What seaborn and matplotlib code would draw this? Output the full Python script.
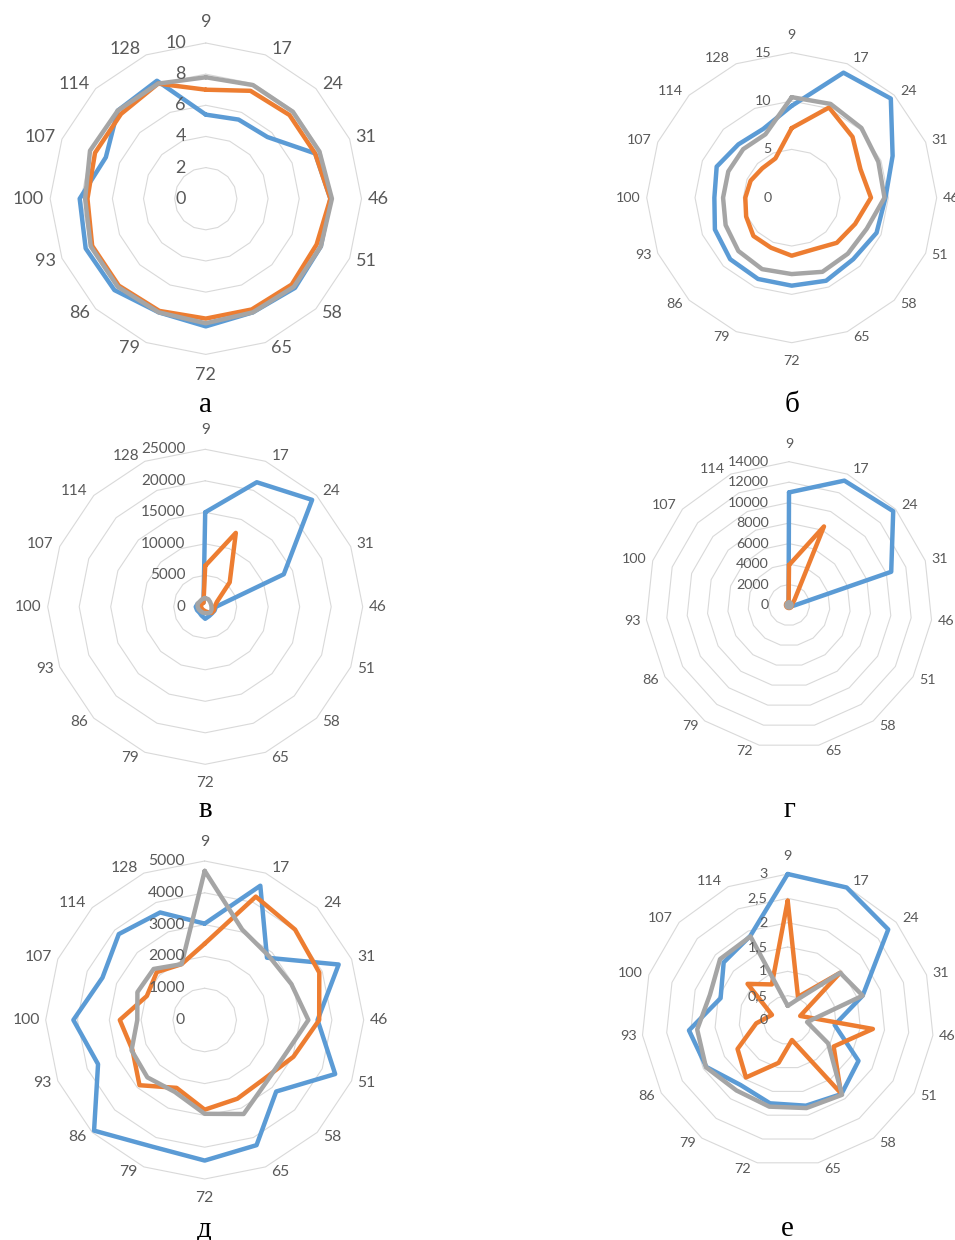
import numpy as np
import pandas as pd
import matplotlib
matplotlib.use("Agg")
import matplotlib.pyplot as plt
import seaborn as sns
from matplotlib.transforms import offset_copy

# categories (16 for а, б, в, д; 15 for г, е)
cats16 = ["9", "17", "24", "31", "46", "51", "58", "65", "72", "79", "86", "93", "100", "107", "114", "128"]
cats15 = ["9", "17", "24", "31", "46", "51", "58", "65", "72", "79", "86", "93", "100", "107", "114"]

# а
blue_a = [5.4, 5.5, 5.6, 7.6, 8.0, 8.0, 8.1, 7.9, 8.2, 7.9, 8.3, 8.35, 8.1, 6.95, 8.0, 8.2]
orange_a = [7.0, 7.5, 7.6, 7.6, 8.0, 7.7, 7.8, 7.7, 7.7, 7.8, 7.9, 7.9, 7.6, 7.7, 7.7, 8.0]
gray_a = [7.8, 7.9, 7.9, 7.9, 8.1, 8.0, 8.0, 7.9, 8.0, 7.9, 8.0, 8.0, 7.75, 8.05, 8.0, 8.0]
ticks_a = [0, 2, 4, 6, 8, 10]
labels_a = ["0", "2", "4", "6", "8", "10"]

# б
blue_b = [9.5, 14.0, 14.5, 11.3, 9.7, 9.5, 9.0, 9.3, 9.1, 9.1, 9.0, 8.6, 8.0, 8.4, 7.8, 7.7]
orange_b = [7.2, 10.1, 8.9, 7.7, 8.2, 7.1, 6.6, 5.8, 6.0, 5.6, 5.6, 5.1, 4.8, 4.6, 4.3, 4.4]
gray_b = [10.4, 10.5, 10.2, 9.7, 9.6, 8.4, 8.2, 8.3, 7.9, 8.0, 7.8, 7.4, 7.1, 7.1, 7.1, 7.1]
ticks_b = [0, 5, 10, 15]
labels_b = ["0", "5", "10", "15"]

# в
blue_v = [15000, 21400, 24000, 13500, 1700, 1600, 1500, 1600, 1900, 1500, 1300, 1400, 1500, 1300, 1000, 700]
orange_v = [6500, 12700, 5500, 2000, 1500, 1500, 1400, 900, 700, 600, 600, 600, 700, 700, 700, 700]
gray_v = [1400, 1300, 1100, 1000, 1000, 1100, 1200, 1100, 1000, 1000, 1000, 1100, 1200, 1300, 1200, 1300]
ticks_v = [0, 5000, 10000, 15000, 20000, 25000]
labels_v = ["0", "5000", "10000", "15000", "20000", "25000"]

# г
blue_g = [11000, 13300, 13700, 10500, 500, 200, 200, 200, 200, 200, 200, 200, 200, 200, 100]
orange_g = [3900, 8400, 700, 300, 300, 300, 300, 300, 300, 300, 300, 300, 300, 300, 100]
gray_g = [250, 250, 250, 250, 250, 250, 250, 250, 250, 250, 250, 250, 250, 250, 250]
ticks_g = [0, 2000, 4000, 6000, 8000, 10000, 12000, 14000]
labels_g = ["0", "2000", "4000", "6000", "8000", "10000", "12000", "14000"]

# д
blue_d = [3030, 4570, 2770, 4560, 3550, 4440, 3180, 4260, 4420, 4310, 4920, 3630, 4130, 3480, 3820, 3660]
orange_d = [2400, 4200, 4020, 3900, 3600, 3020, 2630, 2680, 2820, 2310, 2900, 2460, 2670, 1970, 2130, 1900]
gray_d = [4690, 3080, 2850, 2950, 3260, 2760, 2750, 3200, 2950, 2450, 2550, 2490, 2120, 2290, 2270, 1900]
ticks_d = [0, 1000, 2000, 3000, 4000, 5000]
labels_d = ["0", "1000", "2000", "3000", "4000", "5000"]

# е
blue_e = [3.0, 2.98, 2.78, 1.62, 0.97, 1.68, 1.88, 1.80, 1.75, 1.65, 1.93, 2.04, 1.45, 1.77, 1.89]
orange_e = [2.45, 0.52, 1.45, 0.27, 1.76, 1.09, 1.86, 0.42, 0.90, 1.46, 1.19, 0.65, 0.34, 1.11, 0.80]
gray_e = [0.29, 0.45, 1.45, 1.62, 0.40, 0.96, 1.90, 1.85, 1.82, 1.79, 1.94, 1.87, 1.68, 1.87, 1.88]
ticks_e = [0, 0.5, 1, 1.5, 2, 2.5, 3]
labels_e = ["0", "0,5", "1", "1,5", "2", "2,5", "3"]

colors = ["#5B9BD5", "#ED7D31", "#A5A5A5"]
text_col = "#595959"

sns.set_style("white")
plt.rcParams["font.family"] = ["Lato", "DejaVu Sans"]

W, H = 955, 1240
fig = plt.figure(figsize=(W / 100, H / 100), dpi=100)


def radar(cx, cy, R, cats, series, ticks, tick_labels, fs, letter, letter_y, vgap=19):
    ax = fig.add_axes([(cx - R) / W, (H - cy - R) / H, 2 * R / W, 2 * R / H], projection="polar")
    ax.set_theta_zero_location("N")
    ax.set_theta_direction(-1)
    n = len(cats)
    rmax = ticks[-1]
    theta = np.linspace(0, 2 * np.pi, n, endpoint=False)
    closed = np.append(theta, 2 * np.pi)

    # polygon grid rings
    for v in ticks[1:]:
        ax.plot(closed, [v] * (n + 1), color="#D9D9D9", lw=0.8, zorder=1, clip_on=False)

    rows = []
    for name, vals in zip(["s1", "s2", "s3"], series):
        vv = list(vals) + [vals[0]]
        for t, v in zip(closed, vv):
            rows.append({"theta": t, "value": v, "series": name})
    df = pd.DataFrame(rows)
    sns.lineplot(data=df, x="theta", y="value", hue="series", hue_order=["s1", "s2", "s3"],
                 palette=colors, sort=False, estimator=None, linewidth=3.2, legend=False, ax=ax,
                 clip_on=False, solid_joinstyle="round", zorder=3)

    ax.set_ylim(0, rmax)
    ax.grid(False)
    ax.set_xticks([])
    ax.set_yticks([])
    ax.spines["polar"].set_visible(False)
    ax.patch.set_alpha(0)
    ax.set_xlabel("")
    ax.set_ylabel("")

    # value labels left of the vertical axis
    tr = offset_copy(ax.transData, fig=fig, x=-20, y=0, units="dots")
    for v, s in zip(ticks, tick_labels):
        ax.text(0, v, s, transform=tr, ha="right", va="center", fontsize=fs, color=text_col, zorder=5)

    # category labels, placed like excel does
    for t, c in zip(theta, cats):
        sn, cs = np.sin(t), np.cos(t)
        if abs(sn) < 0.05:
            ha, dx, dy = "center", 0, cs * vgap
        else:
            ha, dx, dy = ("left" if sn > 0 else "right"), np.sign(sn) * 6, 6 * cs
        trl = offset_copy(ax.transData, fig=fig, x=dx, y=dy, units="dots")
        ax.text(t, rmax, c, transform=trl, ha=ha, va="center", fontsize=fs, color=text_col)

    fig.text(cx / W, 1 - letter_y / H, letter, ha="center", va="baseline",
             family="Liberation Serif", fontsize=21, color="black")


radar(205.8, 198.7, 155.7, cats16, [blue_a, orange_a, gray_a], ticks_a, labels_a, 13, "а", 412, 21)
radar(791.7, 197.7, 145, cats16, [blue_b, orange_b, gray_b], ticks_b, labels_b, 10.3, "б", 412, 18)
radar(205.2, 606.8, 157.5, cats16, [blue_v, orange_v, gray_v], ticks_v, labels_v, 11, "в", 817, 19)
radar(789, 605, 143.3, cats15, [blue_g, orange_g, gray_g], ticks_g, labels_g, 10.3, "г", 817, 18)
radar(204.7, 1020, 159, cats16, [blue_d, orange_d, gray_d], ticks_d, labels_d, 11.3, "д", 1236, 19)
radar(787.7, 1020, 146, cats15, [blue_e, orange_e, gray_e], ticks_e, labels_e, 10.4, "е", 1236, 18)

fig.savefig("out.png", dpi=100)
